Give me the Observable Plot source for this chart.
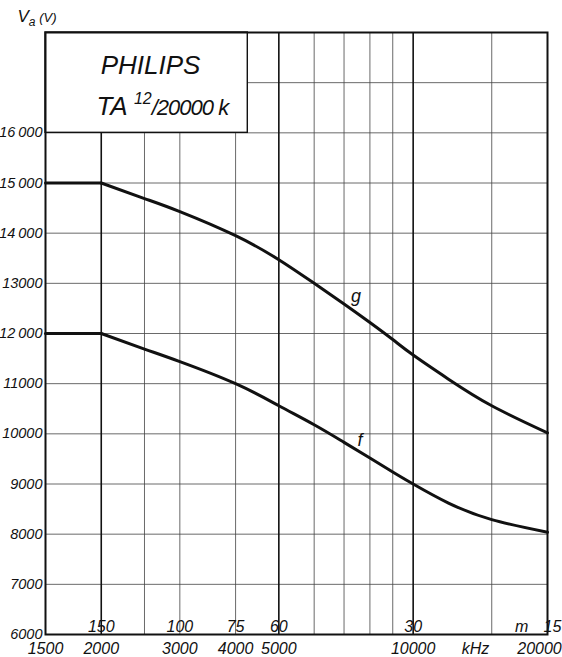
<!DOCTYPE html>
<html>
<head>
<meta charset="utf-8">
<script src="https://cdn.jsdelivr.net/npm/d3@7"></script>
<script src="https://cdn.jsdelivr.net/npm/@observablehq/plot@0.6"></script>
<style>
  html, body { margin: 0; padding: 0; background: #fff; }
  svg { display: block; }
</style>
</head>
<body>
<div id="chart"></div>
<script>
// ---- data ----
const freqG = [2000, 2500, 3000, 4000, 5000, 6000, 7000, 8000, 9000, 10000, 12000, 15000, 20000];
const valG  = [15000, 14690, 14430, 13950, 13470, 13000, 12590, 12220, 11880, 11570, 11090, 10560, 10020];
const freqF = [2000, 2500, 3000, 4000, 5000, 6000, 7000, 8000, 9000, 10000, 12000, 15000, 20000];
const valF  = [12000, 11690, 11440, 11000, 10560, 10180, 9830, 9520, 9240, 9000, 8620, 8290, 8040];
const flatFreq = [1500, 2000];
const flatG = [15000, 15000];
const flatF = [12000, 12000];

const minorGridX = [2500, 3000, 4000, 6000, 7000, 8000, 9000, 15000];
const majorGridX = [2000, 5000, 10000];
const gridY = [7000, 8000, 9000, 10000, 11000, 12000, 13000, 14000, 15000, 16000, 17000];

const yTicks = [6000, 7000, 8000, 9000, 10000, 11000, 12000, 13000, 14000, 15000, 16000];
const yTickLabels = ["6000", "7000", "8000", "9000", "10000", "11000", "12\u2009000", "13000", "14\u2009000", "15\u2009000", "16\u2009000"];

const kHzTicks = [1500, 2000, 3000, 4000, 5000, 10000];
const kHzLabels = ["1500", "2000", "3000", "4000", "5000", "10000"];
const kHzEdge = {f: 20000, label: "20000"};
const unitKHz = {f: 13800, label: "kHz"};

const mTicks = [2000, 3000, 4000, 5000, 10000];
const mLabels = ["150", "100", "75", "60", "30"];
const mEdge = {f: 20000, label: "15"};
const unitM = {f: 17500, label: "m"};

const curveLabels = [
  {f: 7450, v: 12740, label: "g"},
  {f: 7600, v: 9880, label: "f"}
];
const boxSpan = {f1: 1500, f2: 4260, v1: 16000, v2: 18000};
const titleLines = [
  {f: 2580, v: 17330, label: "PHILIPS"},
  {f: 2740, v: 16520, label: "TA 12/20000 k"}
];
const axisTitle = {f: 1500, v: 18000, label: "Va (V)"};

const font = "'Liberation Sans', 'DejaVu Sans', sans-serif";

const gRows = freqG.map((f, i) => ({f, v: valG[i]}));
const fRows = freqF.map((f, i) => ({f, v: valF[i]}));
const gFlat = flatFreq.map((f, i) => ({f, v: flatG[i]}));
const fFlat = flatFreq.map((f, i) => ({f, v: flatF[i]}));

const ink = "#111";
const yLabelStyle = {fontSize: 14.5, fill: ink, letterSpacing: "-0.7px"};
const xLabelStyle = {fontSize: 16, fill: ink, letterSpacing: "-0.6px"};

const chart = Plot.plot({
  width: 562,
  height: 657,
  marginLeft: 45,
  marginRight: 15,
  marginTop: 32,
  marginBottom: 23,
  style: {fontFamily: font, fontStyle: "italic", fontSize: "14px", background: "#fff", color: ink, overflow: "visible"},
  x: {type: "log", domain: [1500, 20000], axis: null},
  y: {domain: [6000, 18000], axis: null},
  marks: [
    Plot.ruleX(minorGridX, {stroke: "#444", strokeWidth: 0.8}),
    Plot.ruleY(gridY, {stroke: "#444", strokeWidth: 0.8}),
    Plot.ruleX(majorGridX, {stroke: ink, strokeWidth: 1.6}),
    Plot.rect([boxSpan], {x1: "f1", x2: "f2", y1: "v1", y2: "v2", fill: "#fff", stroke: ink, strokeWidth: 1.4}),
    Plot.frame({stroke: ink, strokeWidth: 2}),
    Plot.line(gFlat, {x: "f", y: "v", stroke: ink, strokeWidth: 3}),
    Plot.line(fFlat, {x: "f", y: "v", stroke: ink, strokeWidth: 3}),
    Plot.line(gRows, {x: "f", y: "v", stroke: ink, strokeWidth: 3, curve: "natural"}),
    Plot.line(fRows, {x: "f", y: "v", stroke: ink, strokeWidth: 3, curve: "natural"}),
    // y tick labels
    Plot.text(yTicks, {x: 1500, y: d => d, text: (d, i) => yTickLabels[i], textAnchor: "end", dx: -3, ...yLabelStyle}),
    // kHz labels below frame
    Plot.text(kHzTicks, {x: d => d, y: 6000, text: (d, i) => kHzLabels[i], dy: 14, ...xLabelStyle}),
    Plot.text([kHzEdge], {x: "f", y: 6000, text: "label", dy: 14, dx: -8, ...xLabelStyle}),
    Plot.text([unitKHz], {x: "f", y: 6000, text: "label", dy: 14, ...xLabelStyle}),
    // wavelength labels above bottom frame
    Plot.text(mTicks, {x: d => d, y: 6000, text: (d, i) => mLabels[i], dy: -8, ...xLabelStyle}),
    Plot.text([mEdge], {x: "f", y: 6000, text: "label", dy: -8, dx: 5, ...xLabelStyle}),
    Plot.text([unitM], {x: "f", y: 6000, text: "label", dy: -8, ...xLabelStyle}),
    // curve labels
    Plot.text(curveLabels, {x: "f", y: "v", text: "label", fontSize: 18, fill: ink}),
    // title box
    Plot.text(titleLines, {x: "f", y: "v", text: "label", fontSize: 26, fill: ink, className: "title-line"}),
    // y axis title
    Plot.text([axisTitle], {x: "f", y: "v", text: "label", textAnchor: "start", dx: -28, dy: -16, fontSize: 17, fill: ink, className: "axis-title"})
  ]
});

// typographic details (superscript / subscript) of existing texts
d3.select(chart).selectAll("g.title-line text").each(function() {
  const t = d3.select(this);
  if (t.text() === "TA 12/20000 k") {
    t.text(null);
    t.append("tspan").text("TA ");
    t.append("tspan").attr("font-size", 16).attr("dy", -11).text("12");
    t.append("tspan").attr("font-size", 22).attr("dy", 11).attr("letter-spacing", "-1px").text("/20000 k");
  }
});
d3.select(chart).selectAll("g.axis-title text").each(function() {
  const t = d3.select(this);
  t.text(null);
  t.append("tspan").text("V");
  t.append("tspan").attr("font-size", 12).attr("dy", 4).text("a");
  t.append("tspan").attr("font-size", 13).attr("dy", -4).text(" (V)");
});

document.getElementById("chart").appendChild(chart);
</script>
</body>
</html>
